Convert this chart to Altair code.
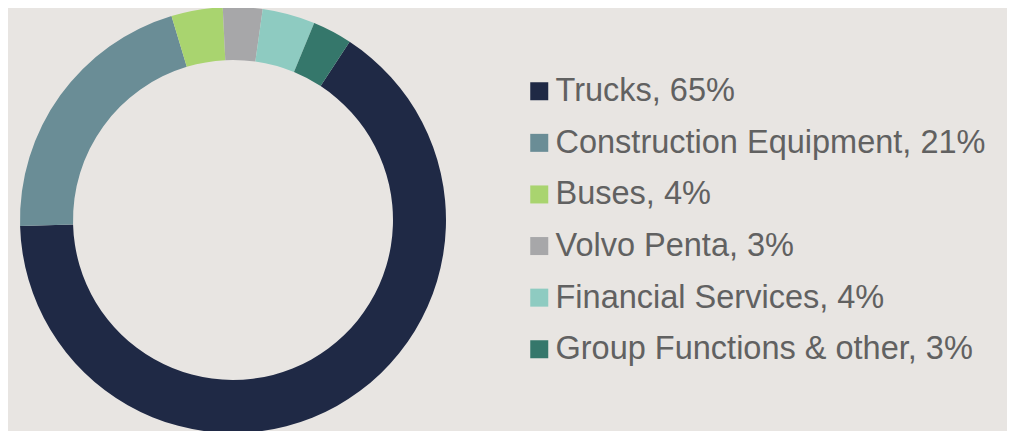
import altair as alt
import pandas as pd

categories = ["Trucks", "Construction Equipment", "Buses", "Volvo Penta",
              "Financial Services", "Group Functions & other"]
shares = [65.4, 20.8, 3.9, 3.0, 4.0, 3.0]
label_pct = ["65%", "21%", "4%", "3%", "4%", "3%"]
colors = ["#1f2945", "#6a8d96", "#a9d46f", "#a7a7a9", "#8ecbc1", "#35776b"]

labels = [f"{c}, {p}" for c, p in zip(categories, label_pct)]
df = pd.DataFrame({"label": labels, "share": shares, "order": list(range(len(labels)))})

start = 0.5795
chart = alt.Chart(df).mark_arc(innerRadius=160, outerRadius=213, strokeWidth=0).encode(
    theta=alt.Theta("share:Q", stack=True,
                    scale=alt.Scale(range=[start, start + 6.283185307])),
    order=alt.Order("order:Q"),
    color=alt.Color("label:N", sort=labels,
                    scale=alt.Scale(domain=labels, range=colors),
                    legend=alt.Legend(title=None, orient="none", legendX=515, legendY=67,
                                      symbolType="square", symbolSize=324,
                                      symbolStrokeWidth=0, labelFontSize=32.5,
                                      labelFont="Liberation Sans", labelColor="#616161",
                                      labelOffset=0, rowPadding=18.6, labelLimit=600,
                                      padding=0)),
    x=alt.value(225),
    y=alt.value(212),
).properties(width=999, height=423, padding=0, background="#e8e5e2",
             autosize=alt.AutoSizeParams(type="none")
).configure_view(stroke=None)

chart.save("out.html", embed_options={"renderer": "svg", "actions": False})
